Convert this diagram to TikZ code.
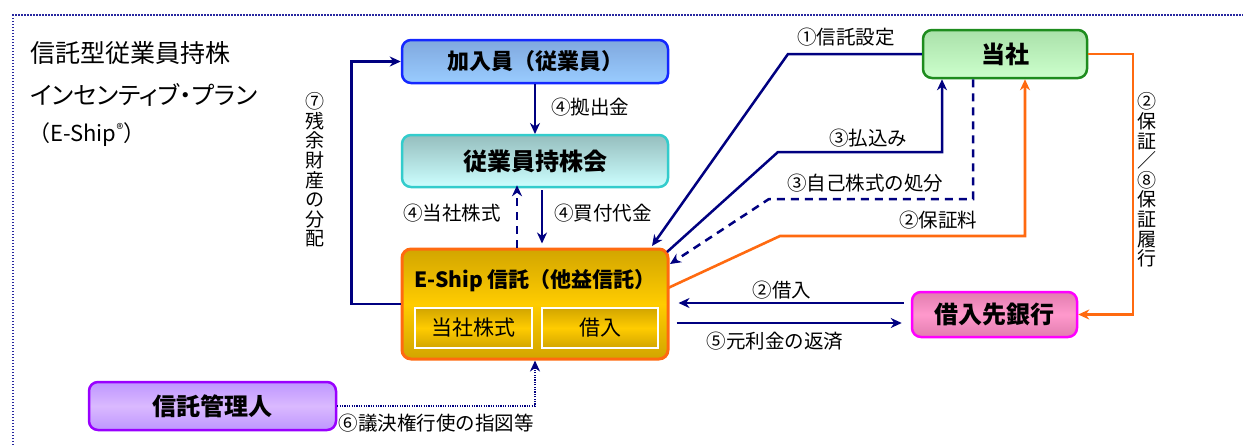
\documentclass[tikz,border=0pt]{standalone}
\usepackage{fontspec}
\setmainfont{Noto Sans CJK JP}
\newfontfamily\jpp[RawFeature=+palt]{Noto Sans CJK JP}
\usetikzlibrary{arrows.meta,calc}
\definecolor{nv}{RGB}{0,0,128}
\definecolor{orl}{RGB}{255,106,16}
\definecolor{framec}{RGB}{40,40,160}
\definecolor{blueB}{RGB}{20,40,255}
\definecolor{blueT}{RGB}{128,168,222}
\definecolor{blueM}{RGB}{153,204,255}
\definecolor{cyanB}{RGB}{51,204,204}
\definecolor{cyanT}{RGB}{150,190,190}
\definecolor{cyanM}{RGB}{204,255,255}
\definecolor{goldD}{RGB}{210,165,0}
\definecolor{goldM}{RGB}{255,204,0}
\definecolor{greenB}{RGB}{30,140,30}
\definecolor{greenT}{RGB}{170,225,170}
\definecolor{greenM}{RGB}{204,255,204}
\definecolor{pinkB}{RGB}{255,0,255}
\definecolor{pinkD}{RGB}{225,125,175}
\definecolor{pinkM}{RGB}{255,153,204}
\definecolor{purB}{RGB}{153,0,255}
\definecolor{purD}{RGB}{190,150,255}
\definecolor{purM}{RGB}{218,185,255}
\begin{document}
\begin{tikzpicture}[x=1pt,y=-1pt,
  box/.style={rectangle,rounded corners=9pt,line width=2.5pt,inner sep=0pt,
    text=black,font=\bfseries\fontsize{24}{26}\selectfont},
  innerbox/.style={rectangle,draw=white,line width=2pt,inner sep=0pt,
    top color=goldD,bottom color=goldD,middle color=goldM,
    minimum height=40pt,font=\fontsize{21}{22}\selectfont},
  lbl/.style={inner sep=0pt,font=\fontsize{19.5}{20}\selectfont},
  vlbl/.style={inner sep=0pt,align=center,font=\fontsize{19}{19.6}\selectfont},
  nvl/.style={draw=nv,line width=2.5pt},
  orln/.style={draw=orl,line width=2.6pt},
  arr/.style={-{Stealth[length=11pt,width=10pt,inset=3.5pt]}},
  dsh/.style={dash pattern=on 8pt off 6pt},
  dt/.style={dash pattern=on 1.2pt off 1.2pt}
]
\useasboundingbox (0,0) rectangle (1243,445);
% frame
\draw[framec,line width=1.8pt,dash pattern=on 1.5pt off 1.5pt] (13,445) -- (13,15) -- (1243,15);

% title
\node[anchor=west,inner sep=0pt,font=\fontsize{25}{26}\selectfont] (t1) at (30,53) {信託型従業員持株};
\node[anchor=west,inner sep=0pt,font=\jpp\fontsize{24.5}{26}\selectfont] (t2) at (30,95) {インセンティブ・プラン};
\node[anchor=west,inner sep=0pt,font=\fontsize{22}{24}\selectfont] (t3) at (28,135) {（E-Ship\textsuperscript{\fontsize{14}{14}\selectfont ®}）};

% boxes
\node[box,draw=blueB,top color=blueT,bottom color=blueM,minimum width=266pt,minimum height=43pt,
  font=\bfseries\fontsize{22}{24}\selectfont] (join) at (535,61.5) {加入員（従業員）};
\node[box,draw=cyanB,top color=cyanT,bottom color=cyanM,minimum width=266pt,minimum height=52pt] (kai) at (535,161) {従業員持株会};
\node[box,draw=orl,line width=3pt,top color=goldD,bottom color=goldD,middle color=goldM,
  minimum width=266pt,minimum height=110pt] (trust) at (535,304) {};
\node[inner sep=0pt,font=\bfseries\fontsize{21}{22}\selectfont] (ttl) at (535,281) {E-Ship 信託（他益信託）};
\node[innerbox,minimum width=117pt] (in1) at (473.5,328) {当社株式};
\node[innerbox,minimum width=116pt] (in2) at (600,328) {借入};
\node[box,draw=greenB,top color=greenT,bottom color=greenM,minimum width=164pt,minimum height=48pt] (tosha) at (1005,54) {当社};
\node[box,draw=pinkB,top color=pinkD,bottom color=pinkD,middle color=pinkM,minimum width=165pt,minimum height=45pt] (bank) at (994.5,314.5) {借入先銀行};
\node[box,draw=purB,top color=purD,bottom color=purD,middle color=purM,minimum width=247pt,minimum height=48pt] (kanri) at (212.5,406) {信託管理人};

% free-end coordinates at the trust box
\coordinate (e1) at (652,246);
\coordinate (e3a) at (667,252);
\coordinate (e3b) at (670,264);
\coordinate (e2a) at (668,288);

% connectors
\draw[nvl,arr] (trust.west) -- ++(-49,0) |- (join.west);
\draw[nvl,arr] (join.south) -- (kai.south |- 0,134);
\draw[nvl,arr,dsh] ([xshift=-18pt]trust.north) -- ([shift={(-18,-3)}]kai.south);
\draw[nvl,arr] ([shift={(7,2)}]kai.south) -- ([shift={(7,-4)}]trust.north);
\draw[nvl,arr] (tosha.west) -- (788,54) -- (e1);
\draw[nvl,arr] (e3a) -- (778,152) -| ([xshift=-63pt]tosha.south);
\draw[nvl,arr,dsh] ([xshift=-32pt]tosha.south) |- (769,199) -- (e3b);
\draw[orln,arr] (e2a) -- (780,236) -| ([xshift=20pt]tosha.south);
\draw[orln,arr] (tosha.east) -- (1133,54) |- (bank.east);
\draw[nvl,arr] ([shift={(-7,-11.5)}]bank.west) -- ([shift={(9,-1)}]trust.east);
\draw[nvl,arr] ([shift={(7,19)}]trust.east) -- ([shift={(-9,8.5)}]bank.west);
\draw[nv,line width=2.5pt,dt,arr] (kanri.east) -| (trust.south);

% labels
\node[lbl] (l4a) at (590,107) {④拠出金};
\node[lbl] (l4b) at (452,213) {④当社株式};
\node[lbl] (l4c) at (603,213) {④買付代金};
\node[vlbl] (l7) at (315,170) {⑦\\残\\余\\財\\産\\の\\分\\配};
\node[lbl] (l1) at (846,37) {①信託設定};
\node[lbl] (l3a) at (868,138) {③払込み};
\node[lbl] (l3b) at (865,183) {③自己株式の処分};
\node[lbl] (l2a) at (938,220) {②保証料};
\node[vlbl] (l28) at (1147,180) {②\\保\\証\\／\\⑧\\保\\証\\履\\行};
\node[lbl] (l2b) at (782,290) {②借入};
\node[lbl] (l5) at (775,341) {⑤元利金の返済};
\node[lbl] (l6) at (436,423) {⑥議決権行使の指図等};
\end{tikzpicture}
\end{document}
